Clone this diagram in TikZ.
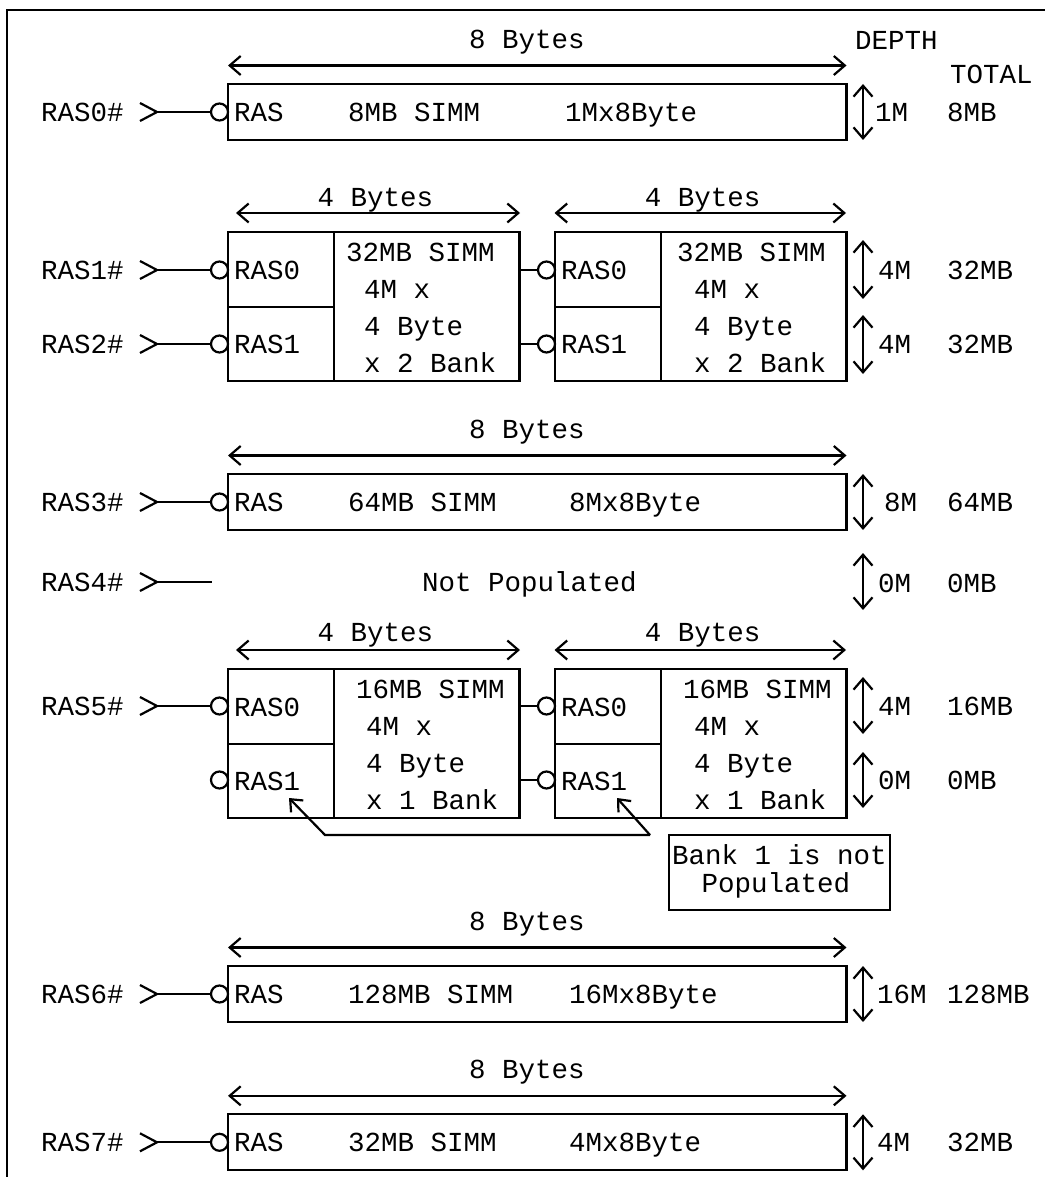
\documentclass[tikz,border=0pt]{standalone}
\usepackage{fontspec}
\setmainfont{Liberation Mono}
\usetikzlibrary{arrows.meta}
\tikzset{
  ln/.style={line width=2.2pt},
  txt/.style={anchor=base west, inner sep=0pt, outer sep=0pt, font=\fontsize{27.5}{28}\selectfont},
  ctxt/.style={txt, anchor=base},
  dimline/.style={ln, {Straight Barb[length=11pt,width=19pt]}-{Straight Barb[length=11pt,width=19pt]}},
  notearrow/.style={ln, -{Straight Barb[length=10pt,width=17pt]}},
  bubble/.style={circle, draw, ln, minimum size=17pt, inner sep=0pt, outer sep=0pt},
  modbox/.style={draw, ln, anchor=north west, inner sep=0pt, outer sep=0pt},
}
% one 8-byte SIMM row
\newcommand\eightrow[9]{%
 \begin{scope}[shift={(0,#2)}]
  \node[txt] (#1lbl) at (41,37.4) {#3};
  \coordinate (#1in) at (157,28);
  \draw[ln] (140,19) -- (#1in) -- (140,37);
  \node[bubble] (#1c) at (219.5,28) {};
  \node[modbox, minimum width=618.5pt, minimum height=56pt] (#1box) at (228,0) {};
  \draw[ln] (#1in) -- (#1c);
  \node[txt] at (234,37.4) {RAS};
  \node[txt] at (348,37.4) {#4};
  \node[txt] at (#6,37.4) {#5};
  \draw[dimline] ([yshift=18.5pt]#1box.north west) -- ([yshift=18.5pt]#1box.north east);
  \node[ctxt] at (527,-35.6) {8 Bytes};
  \draw[dimline] ([xshift=16.5pt]#1box.north east) -- ([xshift=16.5pt]#1box.south east);
  \node[txt] at (#8,37.4) {#7};
  \node[txt] at (947,37.4) {#9};
 \end{scope}}
% one 4-byte, 2-bank SIMM module
\newcommand\quadmod[7]{%
 \node[modbox, minimum width=291.5pt, minimum height=149pt] (#1) at (#2,#3) {};
 \draw[ln] ([xshift=106pt]#1.north west) -- ([xshift=106pt]#1.south west);
 \draw[ln] ([yshift=-75pt]#1.north west) -- ([xshift=106pt,yshift=-75pt]#1.north west);
 \begin{scope}[shift={(#2,#3)}]
  \node[txt] at (6,47.4) {RAS0};
  \node[txt] at (6,121.4) {RAS1};
  \node[txt] at (#5,29.4) {#4};
  \node[txt] at (#6,66.4) {4M x};
  \node[txt] at (#6,103.4) {4 Byte};
  \node[txt] at (#6,140.4) {#7};
 \end{scope}}
\begin{document}
\begin{tikzpicture}[x=1pt,y=-1pt]
\useasboundingbox (0,0) rectangle (1045,1177);
% frame
\draw[line width=2pt] (7,1177) -- (7,10) -- (1045,10);
% headings
\node[txt] (depth) at (855,49.4) {DEPTH};
\node[txt] (total) at (950,83.4) {TOTAL};

% RAS0
\eightrow{r0}{84}{RAS0\#}{8MB SIMM}{1Mx8Byte}{565}{1M}{875}{8MB}

% RAS1 / RAS2
\quadmod{ma}{228}{232}{32MB SIMM}{118}{136}{x 2 Bank}
\quadmod{mb}{555}{232}{32MB SIMM}{122}{139}{x 2 Bank}
\node[txt] at (41,279.4) {RAS1\#};
\node[txt] at (41,353.4) {RAS2\#};
\coordinate (r1in) at (157,270);
\coordinate (r2in) at (157,344);
\draw[ln] (140,261) -- (r1in) -- (140,279);
\draw[ln] (140,335) -- (r2in) -- (140,353);
\node[bubble] (ca0) at (219.5,270) {};
\node[bubble] (ca1) at (219.5,344) {};
\node[bubble] (cb0) at (546.5,270) {};
\node[bubble] (cb1) at (546.5,344) {};
\draw[ln] (r1in) -- (ca0);
\draw[ln] (r2in) -- (ca1);
\draw[ln] (ma.north east |- cb0) -- (cb0);
\draw[ln] (ma.north east |- cb1) -- (cb1);
\coordinate (a1l) at (236,213);
\coordinate (a1r) at (520,213);
\coordinate (a2l) at (554.5,213);
\coordinate (a2r) at (846,213);
\draw[dimline] (a1l) -- (a1r);
\draw[dimline] (a2l) -- (a2r);
\node[ctxt] at (375.5,207) {4 Bytes};
\node[ctxt] at (702.5,207) {4 Bytes};
\coordinate (d1t) at (863,240);
\coordinate (d1b) at (863,299);
\coordinate (d2t) at (863,315);
\coordinate (d2b) at (863,374);
\draw[dimline] (d1t) -- (d1b);
\draw[dimline] (d2t) -- (d2b);
\node[txt] at (878,279.4) {4M};
\node[txt] at (947,279.4) {32MB};
\node[txt] at (878,353.4) {4M};
\node[txt] at (947,353.4) {32MB};

% RAS3
\eightrow{r3}{474}{RAS3\#}{64MB SIMM}{8Mx8Byte}{569}{8M}{884}{64MB}

% RAS4
\node[txt] (r4lbl) at (41,591.4) {RAS4\#};
\coordinate (r4in) at (157,582);
\coordinate (r4end) at (211.7,582);
\draw[ln] (140,573) -- (r4in) -- (140,591);
\draw[ln] (r4in) -- (r4end);
\node[ctxt] at (529.5,591.4) {Not Populated};
\coordinate (d4t) at (863,553);
\coordinate (d4b) at (863,610);
\draw[dimline] (d4t) -- (d4b);
\node[txt] at (878,592.4) {0M};
\node[txt] at (947,592.4) {0MB};

% RAS5
\quadmod{mc}{228}{669}{16MB SIMM}{128}{138}{x 1 Bank}
\quadmod{md}{555}{669}{16MB SIMM}{128}{139}{x 1 Bank}
\node[txt] at (41,715.4) {RAS5\#};
\coordinate (r5in) at (157,706);
\draw[ln] (140,697) -- (r5in) -- (140,715);
\node[bubble] (cc0) at (219.5,706) {};
\node[bubble] (cc1) at (219.5,780) {};
\node[bubble] (cd0) at (546.5,706) {};
\node[bubble] (cd1) at (546.5,780) {};
\draw[ln] (r5in) -- (cc0);
\draw[ln] (mc.north east |- cd0) -- (cd0);
\draw[ln] (mc.north east |- cd1) -- (cd1);
\coordinate (a3l) at (236,650);
\coordinate (a3r) at (520,650);
\coordinate (a4l) at (554.5,650);
\coordinate (a4r) at (846,650);
\draw[dimline] (a3l) -- (a3r);
\draw[dimline] (a4l) -- (a4r);
\node[ctxt] at (375.5,641.4) {4 Bytes};
\node[ctxt] at (702.5,641.4) {4 Bytes};
\coordinate (d5t) at (863,677);
\coordinate (d5b) at (863,734);
\coordinate (d6t) at (863,752);
\coordinate (d6b) at (863,808);
\draw[dimline] (d5t) -- (d5b);
\draw[dimline] (d6t) -- (d6b);
\node[txt] at (878,715.4) {4M};
\node[txt] at (947,715.4) {16MB};
\node[txt] at (878,789.4) {0M};
\node[txt] at (947,789.4) {0MB};

% note
\node[modbox, minimum width=221pt, minimum height=75pt] (note) at (669,835) {};
\node[ctxt] at (779.5,864.4) {Bank 1 is not};
\node[ctxt] at (776,892.4) {Populated};
\coordinate (nj) at (650,835);
\coordinate (nk) at (325,835);
\coordinate (nt1) at (289,798);
\coordinate (nt2) at (617,798);
\draw[notearrow] (nj) -- (nk) -- (nt1);
\draw[notearrow] (nj) -- (nt2);

% RAS6, RAS7
\eightrow{r6}{966}{RAS6\#}{128MB SIMM}{16Mx8Byte}{569}{16M}{877}{128MB}
\eightrow{r7}{1114.3}{RAS7\#}{32MB SIMM}{4Mx8Byte}{569}{4M}{877}{32MB}
\end{tikzpicture}
\end{document}
